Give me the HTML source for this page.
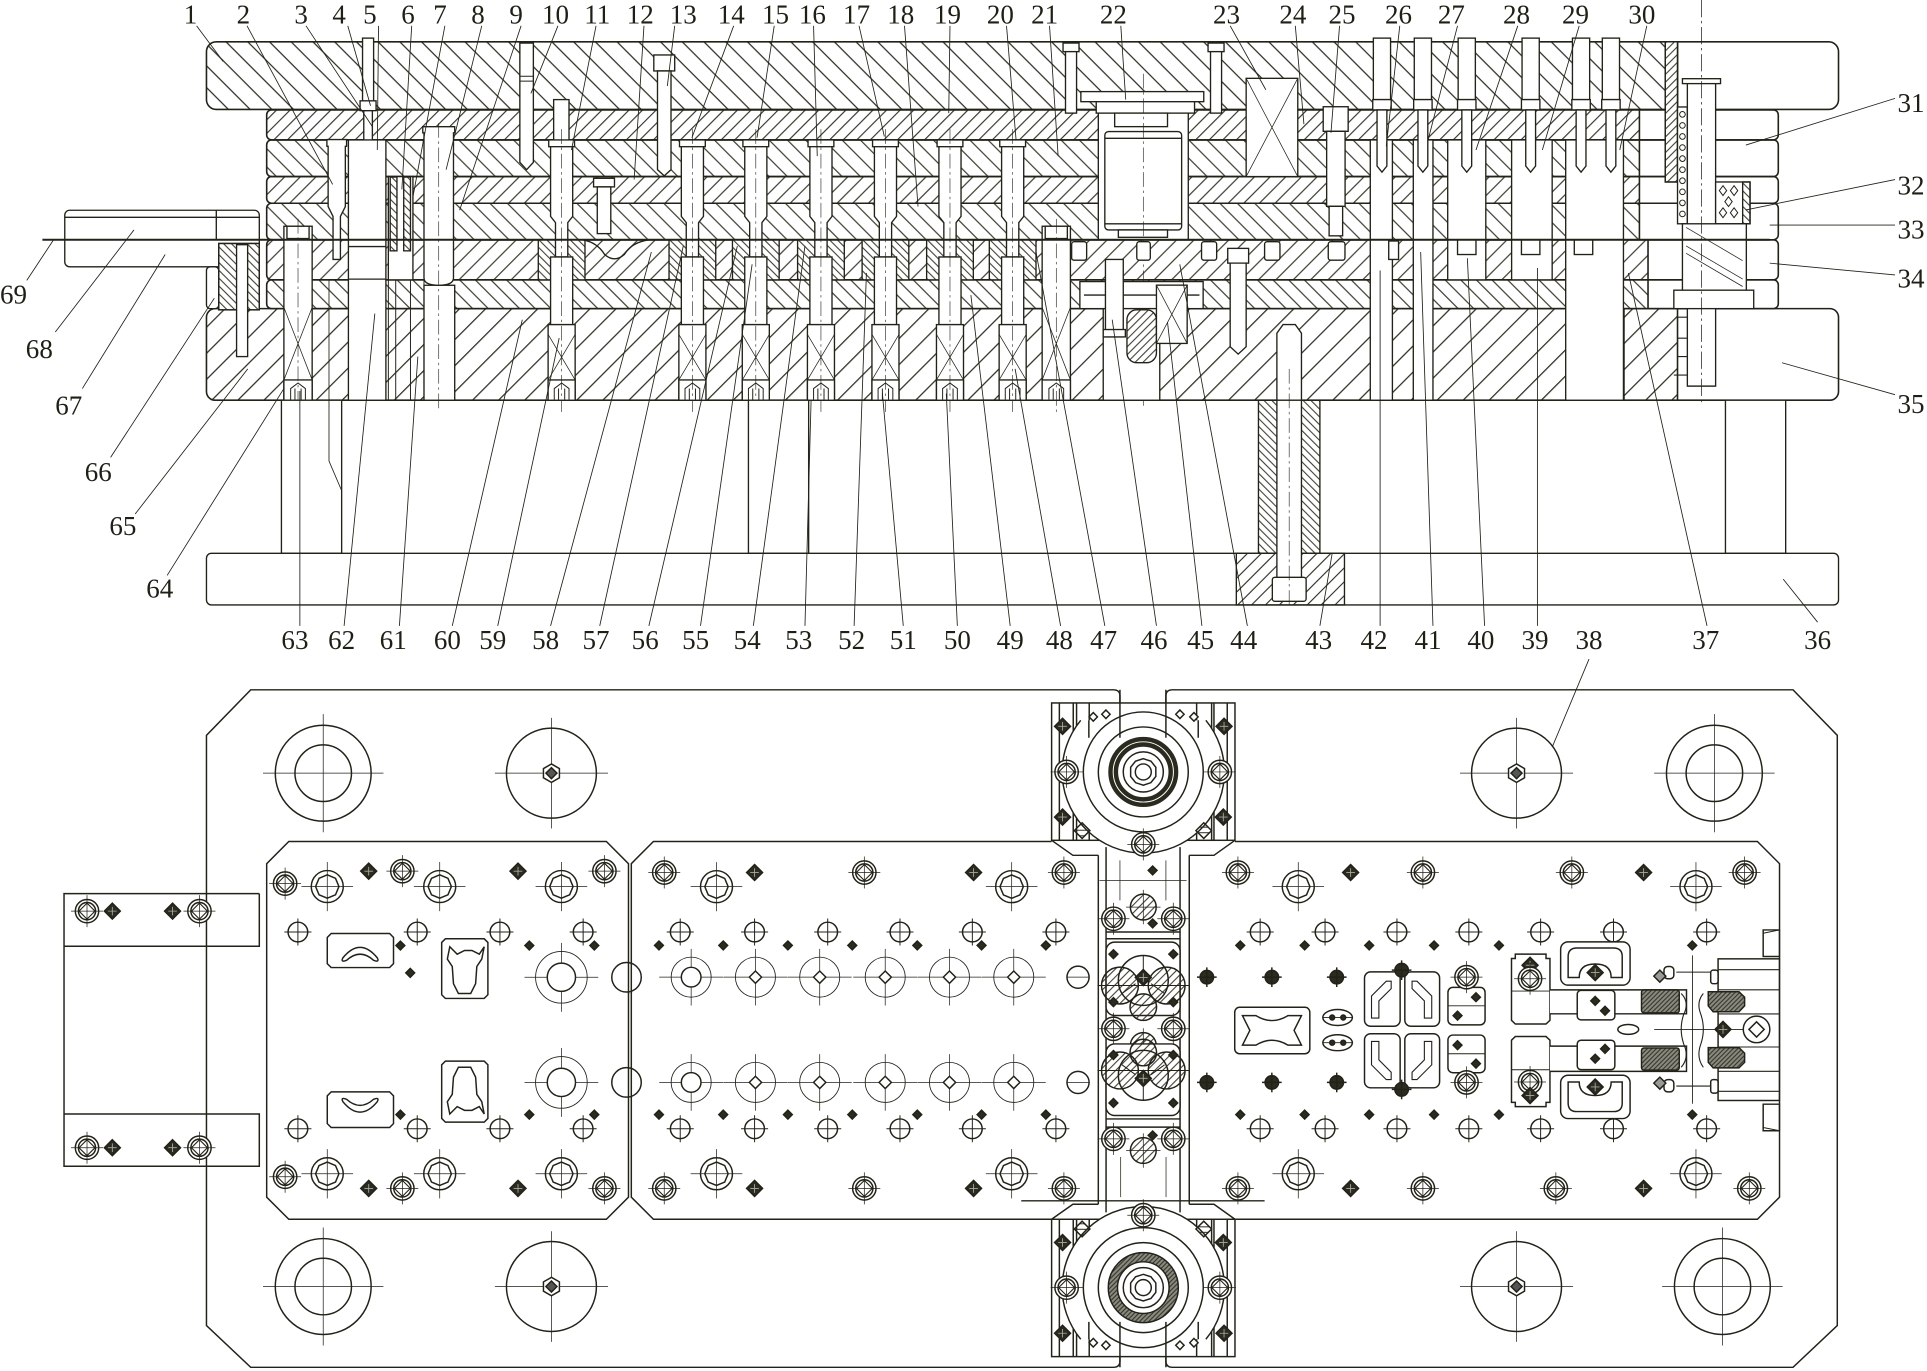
<!DOCTYPE html>
<html><head><meta charset="utf-8">
<style>
html,body{margin:0;padding:0;background:#fff}
svg{display:block}
.t{font-family:"Liberation Serif","DejaVu Serif",serif;font-size:22px;fill:#1f1f16;text-anchor:middle}
</style></head><body>
<svg xmlns="http://www.w3.org/2000/svg" width="1927" height="1371" viewBox="0 0 1568 1115" preserveAspectRatio="none">
<defs>
<pattern id="pA" width="12.5" height="12.5" patternUnits="userSpaceOnUse" patternTransform="rotate(-45)"><path d="M6,0V12.5" stroke="#2a2a1e" stroke-width="1"/></pattern>
<pattern id="pB" width="7.8" height="7.8" patternUnits="userSpaceOnUse" patternTransform="rotate(45)"><path d="M4,0V7.8" stroke="#2a2a1e" stroke-width=".9"/></pattern>
<pattern id="pC" width="10.5" height="10.5" patternUnits="userSpaceOnUse" patternTransform="rotate(-45)"><path d="M5,0V10.5" stroke="#2a2a1e" stroke-width=".9"/></pattern>
<pattern id="pD" width="9" height="9" patternUnits="userSpaceOnUse" patternTransform="rotate(45)"><path d="M4.5,0V9" stroke="#2a2a1e" stroke-width=".9"/></pattern>
<pattern id="pE" width="10" height="10" patternUnits="userSpaceOnUse" patternTransform="rotate(-45)"><path d="M5,0V10" stroke="#2a2a1e" stroke-width=".9"/></pattern>
<pattern id="pF" width="10" height="10" patternUnits="userSpaceOnUse" patternTransform="rotate(45)"><path d="M5,0V10" stroke="#2a2a1e" stroke-width=".9"/></pattern>
<pattern id="pG" width="9" height="9" patternUnits="userSpaceOnUse" patternTransform="rotate(-45)"><path d="M4.5,0V9" stroke="#2a2a1e" stroke-width=".9"/></pattern>
<pattern id="pH" width="15" height="15" patternUnits="userSpaceOnUse" patternTransform="rotate(45)"><path d="M7,0V15" stroke="#2a2a1e" stroke-width="1"/></pattern>
<pattern id="pI" width="4.5" height="4.5" patternUnits="userSpaceOnUse" patternTransform="rotate(-45)"><path d="M2,0V4.5" stroke="#2a2a1e" stroke-width=".8"/></pattern>
<pattern id="pK" width="4.5" height="4.5" patternUnits="userSpaceOnUse" patternTransform="rotate(45)"><path d="M2,0V4.5" stroke="#2a2a1e" stroke-width=".8"/></pattern>
<pattern id="pJ" width="8" height="8" patternUnits="userSpaceOnUse" patternTransform="rotate(45)"><path d="M4,0V8" stroke="#2a2a1e" stroke-width=".9"/></pattern>
<pattern id="pM" width="2.6" height="2.6" patternUnits="userSpaceOnUse" patternTransform="rotate(45)"><rect width="2.6" height="2.6" fill="#8a8a80"/><path d="M1.3,0V2.6" stroke="#2a2a1e" stroke-width=".8"/></pattern>

<g id="pu">
<rect x="-19" y="195" width="38" height="32.6" fill="#fff" stroke="none"/>
<rect x="-19" y="195" width="38" height="32.6" fill="url(#pI)"/>
<path d="M-9,119V176L-5,181V209H5V181L9,176V119Z" fill="#fff"/>
<rect x="-10.5" y="113.8" width="21" height="5.5" fill="#fff"/>
<rect x="-9" y="209" width="18" height="55" fill="#fff"/>
<rect x="-11" y="264" width="22" height="61.5" fill="#fff"/>
<path d="M-11,272L11,309M11,272L-11,309" fill="none" stroke-width=".6"/>
<rect x="-11" y="309" width="22" height="16.5" fill="#fff"/>
<path d="M-6,325V316L0,311.5L6,316V325M-2.5,325V316M2.5,325V316" fill="none" stroke-width=".8"/>
<path d="M0,105V335" fill="none" stroke-width=".5" stroke-dasharray="12 3 2 3"/>
</g>
<g id="ls">
<rect x="-11.5" y="184" width="23" height="141.5" fill="#fff"/>
<rect x="-9" y="184" width="18" height="10" fill="#fff"/>
<path d="M-11.5,250L11.5,309M11.5,250L-11.5,309" fill="none" stroke-width=".6"/>
<rect x="-11.5" y="309" width="23" height="16.5" fill="#fff"/>
<path d="M-6,325V316L0,311.5L6,316V325M-2.5,325V316M2.5,325V316" fill="none" stroke-width=".8"/>
<path d="M0,178V335" fill="none" stroke-width=".5" stroke-dasharray="12 3 2 3"/>
</g>

<g id="pd"><circle r="9.5" fill="#fff"/><circle r="7" fill="none"/><path d="M0,-6.5L6.5,0 0,6.5-6.5,0Z" fill="none" stroke-width=".9"/><path d="M-13,0H13M0,-13V13" fill="none" stroke-width=".6"/></g>
<g id="fd"><path d="M0,-6.5L6.5,0 0,6.5-6.5,0Z" fill="#2b2b20"/><path d="M-3.5,0H3.5M0,-3.5V3.5" stroke="#aaa" stroke-width=".7"/></g>
<g id="cb"><circle r="13" fill="#fff"/><path d="M0,-9.5L6.7,-6.7 9.5,0 6.7,6.7 0,9.5-6.7,6.7-9.5,0-6.7,-6.7Z" fill="none"/><path d="M-21,0H21M0,-20V20" fill="none" stroke-width=".6"/></g>
<g id="sc"><circle r="8" fill="#fff"/><path d="M-11,0H11M0,-11V11" fill="none" stroke-width=".8"/></g>
<path id="sd" d="M0,-3.6L3.6,0 0,3.6-3.6,0Z" fill="#2b2b20"/>
<g id="lc"><circle r="16.3" stroke-width=".7" fill="#fff"/><path d="M-26,0H26M0,-23V23" fill="none" stroke-width=".6"/><path d="M0,-5L5,0 0,5-5,0Z" fill="#fff"/></g>
<g id="lo"><circle r="16.3" stroke-width=".7" fill="#fff"/><path d="M-26,0H26M0,-23V23" fill="none" stroke-width=".6"/><circle r="8" fill="#fff"/></g>
<g id="lb"><circle r="21" stroke-width=".7" fill="#fff"/><path d="M-30,0H30M0,-28V28" fill="none" stroke-width=".6"/><circle r="11.5" fill="#fff"/></g>
<g id="bd"><circle r="5.5" fill="#2b2b20"/><path d="M-8,0H8M0,-8V8" fill="none" stroke-width="1.2"/></g>
<g id="br"><circle r="39" fill="#fff"/><circle r="23" fill="none"/><path d="M-49,0H49M0,-48V48" fill="none" stroke-width=".6"/></g>
<g id="nb"><circle r="36.6" fill="#fff"/><path d="M-46,0H46M0,-45V45" fill="none" stroke-width=".6"/><path d="M0,-7.5L6.5,-3.75 6.5,3.75 0,7.5-6.5,3.75-6.5,-3.75Z" fill="#fff"/><path d="M0,-4.5L4.5,0 0,4.5-4.5,0Z" fill="#555"/></g>
<g id="hc"><circle r="10.5" fill="url(#pK)"/><path d="M-14,0H14M0,-14V14" fill="none" stroke-width=".6"/></g>

<g id="hs">
<rect x="855.7" y="571.7" width="149.2" height="111.7" fill="#fff"/>
<path d="M862,571.7V683.4M998.6,571.7V683.4M873.3,571.7V683.4M876,571.7V683.4M886.3,571.7V683.4M973.7,571.7V683.4M985.9,571.7V683.4M987.8,571.7V683.4" fill="none"/>
<path d="M855.7,683.4L873,695.6H893.7M1004.9,683.4L987.8,695.6H967.7" fill="none"/>
<path d="M879.4,585.8A66,66 0 1,0 981.2,585.8" fill="#fff"/>
<path d="M886,585.8V600M975,585.8V600" fill="none"/>
<circle cx="930.3" cy="627.8" r="48.8" fill="#fff"/>
<circle cx="930.3" cy="627.8" r="36.6" fill="none"/>
<use href="#fd" x="864.6" y="590.7"/><use href="#fd" x="864.6" y="664.5"/><use href="#fd" x="996" y="590.7"/><use href="#fd" x="995.4" y="664.5"/>
<use href="#pd" x="867.9" y="627.8"/><use href="#pd" x="992.6" y="627.8"/>
<path d="M889.6,579.5L893,583 889.6,586.5 886.2,583ZM899.9,577.4L903.3,580.9 899.9,584.4 896.5,580.9ZM960.1,577.4L963.5,580.9 960.1,584.4 956.7,580.9ZM971.5,579.5L974.9,583 971.5,586.5 968.1,583Z" fill="#fff"/>
<use href="#pd" x="930.3" y="686.7"/>
<rect x="876" y="671" width="9" height="9" fill="url(#pK)" transform="rotate(45 880.5 675.5)"/>
<rect x="975" y="671" width="9" height="9" fill="url(#pK)" transform="rotate(45 979.5 675.5)"/>
</g>
</defs>

<!-- ================= SECTION VIEW ================= -->
<g stroke="none">
<rect x="168" y="34" width="1328" height="55" rx="8" fill="url(#pA)"/>
<rect x="1365" y="34" width="131" height="55" fill="#fff"/>
<rect x="217" y="89.4" width="1117" height="24.4" fill="url(#pB)"/>
<rect x="217" y="113.8" width="1117" height="29.8" fill="url(#pC)"/>
<rect x="217" y="143.6" width="1117" height="21.7" fill="url(#pD)"/>
<rect x="217" y="165.3" width="1117" height="29.7" fill="url(#pE)"/>
<rect x="217" y="195" width="1124" height="32.6" fill="url(#pF)"/>
<rect x="217" y="227.6" width="1124" height="23.4" fill="url(#pG)"/>
<rect x="168" y="251" width="1197" height="74.5" fill="url(#pH)"/>
</g>
<g fill="none" stroke="#222218" stroke-width="1.3">
<rect x="168" y="34" width="1328" height="55" rx="8"/>
<rect x="217" y="89.4" width="1230" height="24.4" rx="4"/>
<rect x="217" y="113.8" width="1230" height="29.8" rx="4"/>
<rect x="217" y="143.6" width="1230" height="21.7" rx="4"/>
<rect x="217" y="165.3" width="1230" height="29.7" rx="4"/>
<rect x="217" y="195" width="1230" height="32.6" rx="4"/>
<rect x="217" y="227.6" width="1230" height="23.4" rx="4"/>
<rect x="168" y="251" width="1328" height="74.5" rx="7"/>
<path d="M1365,34V89M1334,89.4V195M1341,195V251M1365,251V325.5M1321.4,251V325.5"/>
</g>

<g fill="#fff" stroke="#222218" stroke-width="1.1">
<!-- left: feed guide and bracket -->
<rect x="52.7" y="171" width="158.3" height="46" rx="4"/>
<path d="M52.7,176.7H211M176,171V195" fill="none"/>
<rect x="168" y="217" width="10" height="34" rx="3"/>
<rect x="178" y="198" width="33" height="54"/>
<rect x="178" y="198" width="33" height="54" fill="url(#pI)"/>
<rect x="192.5" y="199" width="9" height="91"/>
<use href="#ls" x="242.5"/>
<!-- screw 4 -->
<rect x="295" y="31" width="9" height="52"/>
<rect x="293" y="82" width="13" height="8"/>
<path d="M296,90V134L299.5,139L303,134V90Z"/>
<!-- punch 2 -->
<path d="M266,113.5H282V119H281V168L277,176V211H271V176L267,168V119H266Z"/>
<!-- column 5 -->
<rect x="283.5" y="113.8" width="30.5" height="211.7"/>
<path d="M283.5,200.5H314M283.5,227H314" fill="none"/>
<!-- springs 6 -->
<rect x="316" y="143.6" width="20" height="84"/>
<rect x="317.5" y="144" width="5.5" height="60" fill="url(#pI)"/>
<rect x="328.5" y="144" width="5.5" height="60" fill="url(#pI)"/>
<path d="M316,227.6V325.5M322,227.6V325.5M334,227.6V325.5M345,227.6V325.5" fill="none" stroke-width=".8"/>
<!-- punch 8 -->
<rect x="345" y="232" width="25" height="93.5"/>
<path d="M344,103H370V108H369V226Q369,232 357,232Q345,232 345,226V108H344Z"/>
<path d="M357,100V335" fill="none" stroke-width=".5" stroke-dasharray="12 3 2 3"/>
<!-- screw 10 -->
<path d="M423,35H434V132L428.5,138L423,132Z"/>
<path d="M423,62H434M423,66H434" fill="none" stroke-width=".8"/>
<!-- punch 11 -->
<rect x="450.5" y="81" width="12.5" height="33"/>
<use href="#pu" x="457"/>
<path d="M474,195Q486,197 492,207Q500,214 508,207Q514,197 528,195" fill="none"/>
<!-- screw 12 -->
<rect x="483" y="145" width="17" height="7"/>
<rect x="486" y="152" width="11" height="38"/>
<!-- screw 13 -->
<rect x="532" y="44.7" width="17" height="13"/>
<path d="M535,57.7V138L540.5,143L546,138V57.7Z"/>
<!-- punches -->
<use href="#pu" x="563.4"/>
<use href="#pu" x="615"/>
<use href="#pu" x="668"/>
<use href="#pu" x="720.5"/>
<use href="#pu" x="773"/>
<use href="#pu" x="824"/>
<use href="#ls" x="859.5"/>

<!-- centre assembly 22 -->
<rect x="865" y="35" width="13" height="7"/><rect x="867" y="42" width="9" height="50"/>
<rect x="983" y="35" width="13" height="7"/><rect x="985" y="42" width="9" height="50"/>
<rect x="893.7" y="89.4" width="73.2" height="105.6"/>
<rect x="879.5" y="74.5" width="100" height="8.2"/>
<rect x="892" y="82.7" width="80" height="9.3"/>
<rect x="907" y="92" width="43" height="11"/>
<rect x="899" y="107" width="62.5" height="80" rx="3"/>
<path d="M899,112.5H961.5M899,182H961.5" fill="none"/>
<rect x="910" y="187" width="40" height="6"/>
<path d="M930.3,60V330" fill="none" stroke-width=".5" stroke-dasharray="12 3 2 3"/>
<rect x="872" y="196.6" width="12.2" height="15" rx="2"/>
<rect x="925" y="196.6" width="11" height="15" rx="2"/>
<rect x="977.7" y="196.6" width="12.3" height="15" rx="2"/>
<rect x="1029" y="196.6" width="12.5" height="15" rx="2"/>
<rect x="878.7" y="229" width="100.3" height="22"/>
<path d="M882,240H976" fill="none"/>
<rect x="897.7" y="251" width="46" height="74.5"/>
<rect x="899.5" y="211" width="14.5" height="63"/>
<rect x="897.7" y="268" width="18" height="6"/>
<rect x="917" y="252" width="24" height="43" rx="8" fill="url(#pK)"/>
<rect x="941" y="231.9" width="25" height="47.4"/>
<path d="M941,231.9L966,279.3M966,231.9L941,279.3" fill="none" stroke-width=".6"/>
<rect x="999" y="202" width="17" height="12"/>
<path d="M1001,214V282L1007.5,288L1014,282V214Z"/>
<!-- 23 -->
<rect x="1014" y="63.7" width="42" height="79.9"/>
<path d="M1014,63.7L1056,143.6M1056,63.7L1014,143.6" fill="none" stroke-width=".6"/>
<!-- 25 -->
<rect x="1076.7" y="86.8" width="20.3" height="20"/>
<rect x="1079.5" y="106.8" width="15" height="61"/>
<rect x="1081.5" y="167.8" width="11" height="24"/>
<rect x="1080.8" y="196.6" width="13.6" height="15" rx="2"/>
<!-- bolt 43 top -->
<path d="M1039,325.5V271L1044,264H1054L1059,271V325.5Z"/>

<!-- right openings -->
<rect x="1115" y="113.8" width="18" height="211.7"/>
<rect x="1150" y="113.8" width="16" height="211.7"/>
<rect x="1178" y="113.8" width="31" height="113.8"/>
<rect x="1230" y="113.8" width="33" height="113.8"/>
<rect x="1274" y="113.8" width="47" height="211.7"/>
<path d="M1178,195H1209M1230,195H1263M1274,195H1321M1115,195H1133M1150,195H1166" fill="none"/>
<rect x="1186" y="195" width="15" height="12"/>
<rect x="1238" y="195" width="15" height="12"/>
<rect x="1281" y="195" width="15" height="12"/>
<rect x="1130" y="196" width="8" height="15"/>
<!-- right screws -->
<g>
<rect x="1117.5" y="31" width="14" height="50"/><rect x="1117" y="81" width="15" height="8.4"/><path d="M1120.5,89.4V135L1124.5,140L1128.5,135V89.4Z"/>
<rect x="1150.8" y="31" width="14" height="50"/><rect x="1150.3" y="81" width="15" height="8.4"/><path d="M1153.8,89.4V135L1157.8,140L1161.8,135V89.4Z"/>
<rect x="1186.5" y="31" width="14" height="50"/><rect x="1186" y="81" width="15" height="8.4"/><path d="M1189.5,89.4V135L1193.5,140L1197.5,135V89.4Z"/>
<rect x="1238.5" y="31" width="14" height="50"/><rect x="1238" y="81" width="15" height="8.4"/><path d="M1241.5,89.4V135L1245.5,140L1249.5,135V89.4Z"/>
<rect x="1279.5" y="31" width="14" height="50"/><rect x="1279" y="81" width="15" height="8.4"/><path d="M1282.5,89.4V135L1286.5,140L1290.5,135V89.4Z"/>
<rect x="1303.8" y="31" width="14" height="50"/><rect x="1303.3" y="81" width="15" height="8.4"/><path d="M1306.8,89.4V135L1310.8,140L1314.8,135V89.4Z"/>
</g>
<!-- guide assembly -->
<rect x="1355" y="34" width="10" height="114"/>
<rect x="1355" y="34" width="10" height="114" fill="url(#pK)"/>
<rect x="1365" y="87" width="8" height="95"/>
<g fill="none" stroke-width=".8"><circle cx="1369" cy="93" r="2.3"/><circle cx="1369" cy="102" r="2.3"/><circle cx="1369" cy="111" r="2.3"/><circle cx="1369" cy="120" r="2.3"/><circle cx="1369" cy="129" r="2.3"/><circle cx="1369" cy="138" r="2.3"/><circle cx="1369" cy="147" r="2.3"/><circle cx="1369" cy="156" r="2.3"/><circle cx="1369" cy="165" r="2.3"/><circle cx="1369" cy="174" r="2.3"/></g>
<rect x="1373" y="66" width="23" height="248"/>
<rect x="1369" y="64" width="31" height="4"/>
<rect x="1396" y="148" width="28" height="34"/>
<rect x="1418" y="148" width="6" height="34" fill="url(#pI)"/>
<path d="M1402,151L1405,155 1402,159 1399,155ZM1411,151L1414,155 1411,159 1408,155ZM1406.5,160L1409.5,164 1406.5,168 1403.5,164ZM1402,169L1405,173 1402,177 1399,173ZM1411,169L1414,173 1411,177 1408,173Z" fill="none" stroke-width=".8"/>
<rect x="1369" y="182" width="52" height="54"/>
<path d="M1372,185L1418,212M1372,200L1418,227M1372,206L1418,233" fill="none" stroke-width=".6"/>
<rect x="1362" y="236" width="65" height="15"/>
<path d="M1365,258H1373M1365,275H1373M1365,290H1373M1362,305H1373M1373,314H1396" fill="none" stroke-width=".9"/>
<path d="M1384.5,0V330" fill="none" stroke-width=".6" stroke-dasharray="14 3 2 3"/>

<!-- supports and base -->
<rect x="229" y="325.5" width="49" height="124.5"/>
<rect x="609" y="325.5" width="49" height="124.5"/>
<rect x="1404" y="325.5" width="49" height="124.5"/>
<rect x="1024" y="325.5" width="50" height="124.5" fill="url(#pI)"/>
<rect x="168" y="450" width="1328" height="42" rx="4"/>
<rect x="1006" y="450" width="88" height="42" fill="url(#pJ)"/>
<rect x="1039" y="325.5" width="20" height="145"/>
<rect x="1035.3" y="469.5" width="27.5" height="19.5" rx="2"/>
<path d="M1049,300V495" fill="none" stroke-width=".5" stroke-dasharray="12 3 2 3"/>
</g>
<!-- strip -->
<path d="M34.5,195H1440" stroke="#222218" stroke-width="1.6" fill="none"/>

<!-- leaders -->
<g stroke="#222218" stroke-width=".7" fill="none">
<path d="M160,21L181.6,50M201,21L270.7,150M249,21L303,103M283,21L301.5,86M308,21L307,122M335,21L327,154M362,21L336,160M392,21L363,138M424,21L374,171M454,21L432,76M485,21L465,122M524,21L516,146M549,21L543,70M597,21L563,112M630,21L616,112M662,21L665,127M699,21L719.6,111M736,21L747,168M773,21L772,92M819,21L826.8,114M854,21L861,127M912,21L916,81M1001,21L1030,73M1054,21L1061,101M1090,21L1083,108M1139,21L1128,119M1186,21L1162,114M1235,21L1201,122M1285,21L1255,122M1340,21L1318,122"/>
<path d="M1542,80L1420.6,118M1542,146L1420.6,170.7M1542,183L1440,183M1542,223.6L1440,214M1542,321L1450,295"/>
<path d="M21.8,228L43.6,195M45,270L109,187M67,316L134.4,207M90,372L174.4,242.5M110,418L201.6,300M136,468L231,316"/>
<path d="M244,509L244,318M280,509L305,255M325,509L340,290M368,509L425,260M405,509L455,275M448,509L530,205M488,509L556,200M528,509L600,200M570,509L612,215M613,509L655,200M655,509L660,325M695,509L705,222M735,509L718,320M779,509L770,320M822,509L790,240M863,509L826,300M899,509L843,205M941,509L905,260M978,509L950,262M1015,509L960,215M1074,509L1084,450M1123,509L1123,220M1166,509L1156,205M1208,509L1194,210M1251,509L1251,218M1293,536L1257,622M1389,509L1325,222M1479,506L1451,471"/>
<path d="M267.7,228V375L278,399"/>
</g>

<!-- labels -->
<g class="t">
<text x="155" y="19" class="t">1</text><text x="198" y="19" class="t">2</text><text x="245" y="19" class="t">3</text><text x="276" y="19" class="t">4</text><text x="301" y="19" class="t">5</text><text x="332" y="19" class="t">6</text><text x="358" y="19" class="t">7</text><text x="389" y="19" class="t">8</text><text x="420" y="19" class="t">9</text><text x="452" y="19" class="t">10</text><text x="486" y="19" class="t">11</text><text x="521" y="19" class="t">12</text><text x="556" y="19" class="t">13</text><text x="595" y="19" class="t">14</text><text x="631" y="19" class="t">15</text><text x="661" y="19" class="t">16</text><text x="697" y="19" class="t">17</text><text x="733" y="19" class="t">18</text><text x="771" y="19" class="t">19</text><text x="814" y="19" class="t">20</text><text x="850" y="19" class="t">21</text><text x="906" y="19" class="t">22</text><text x="998" y="19" class="t">23</text><text x="1052" y="19" class="t">24</text><text x="1092" y="19" class="t">25</text><text x="1138" y="19" class="t">26</text><text x="1181" y="19" class="t">27</text><text x="1234" y="19" class="t">28</text><text x="1282" y="19" class="t">29</text><text x="1336" y="19" class="t">30</text>
<text x="1555" y="91" class="t">31</text><text x="1555" y="158" class="t">32</text><text x="1555" y="194" class="t">33</text><text x="1555" y="234" class="t">34</text><text x="1555" y="336" class="t">35</text>
<text x="11" y="247" class="t">69</text><text x="32" y="291" class="t">68</text><text x="56" y="337" class="t">67</text><text x="80" y="391" class="t">66</text><text x="100" y="435" class="t">65</text><text x="130" y="486" class="t">64</text>
<text x="240" y="528" class="t">63</text><text x="278" y="528" class="t">62</text><text x="320" y="528" class="t">61</text><text x="364" y="528" class="t">60</text><text x="401" y="528" class="t">59</text><text x="444" y="528" class="t">58</text><text x="485" y="528" class="t">57</text><text x="525" y="528" class="t">56</text><text x="566" y="528" class="t">55</text><text x="608" y="528" class="t">54</text><text x="650" y="528" class="t">53</text><text x="693" y="528" class="t">52</text><text x="735" y="528" class="t">51</text><text x="779" y="528" class="t">50</text><text x="822" y="528" class="t">49</text><text x="862" y="528" class="t">48</text><text x="898" y="528" class="t">47</text><text x="939" y="528" class="t">46</text><text x="977" y="528" class="t">45</text><text x="1012" y="528" class="t">44</text><text x="1073" y="528" class="t">43</text><text x="1118" y="528" class="t">42</text><text x="1162" y="528" class="t">41</text><text x="1205" y="528" class="t">40</text><text x="1249" y="528" class="t">39</text><text x="1293" y="528" class="t">38</text><text x="1388" y="528" class="t">37</text><text x="1479" y="528" class="t">36</text>
</g>

<!-- ================= PLAN VIEW ================= -->
<g stroke="#222218" stroke-width="1.2" fill="none">
<path d="M911.3,571.7V566Q911.3,561 906,561H204L168,598V1078L204,1112H906Q911.3,1112 911.3,1107V1103.3"/>
<path d="M948.7,571.7V566Q948.7,561 954,561H1459L1495,598V1078L1459,1112H954Q948.7,1112 948.7,1107V1103.3"/>
<!-- feed guide plan -->
<path d="M211,726.8H52.1V948.5H211V906H52.1M52.1,769.6H211V726.8M211,906V948.5"/>
<!-- blocks -->
<path d="M235,684.4H493.4L511.4,702.4V973.6L493.4,991.6H235L217,973.6V702.4Z"/>
<path d="M855.7,684.4H531.7L513.7,702.4V973.6L531.7,991.6H855.7M893.7,695.6V979.4"/>
<path d="M1004.9,684.4H1430L1448,702.4V973.6L1430,991.6H1004.9M967.7,695.6V979.4"/>
<path d="M900,688.9V986M960.2,688.9V986"/>
<path d="M831,976.6H1029"/>

<!-- housings -->
<use href="#hs"/>
<use href="#hs" transform="translate(0,1675) scale(1,-1)"/>
<g>
<circle cx="930.3" cy="627.8" r="24.5" stroke="#2a2a1e" stroke-width="8"/>
<circle cx="930.3" cy="627.8" r="24.5" stroke="#fff" stroke-width=".8"/>
<circle cx="930.3" cy="627.8" r="16.3" fill="#fff"/>
<path d="M930.3,617L936.5,619 940.5,624 940.5,631.5 936.5,636.5 930.3,638.6 924,636.5 920,631.5 920,624 924,619Z" fill="#fff"/>
<circle cx="930.3" cy="627.8" r="6.5"/>
<path d="M911.3,561V600M948.7,561V600"/>
<circle cx="930.3" cy="1047.2" r="28.5" fill="url(#pM)"/>
<circle cx="930.3" cy="1047.2" r="21" fill="#fff"/>
<circle cx="930.3" cy="1047.2" r="16.3" fill="#fff"/>
<path d="M930.3,1036.4L936.5,1038.4 940.5,1043.4 940.5,1051 936.5,1056 930.3,1058 924,1056 920,1051 920,1043.4 924,1038.4Z" fill="#fff"/>
<circle cx="930.3" cy="1047.2" r="6.5"/>
<path d="M911.3,1112V1075M948.7,1112V1075"/>
</g>

<!-- column features -->
<path d="M894.6,716H965.5M911.3,699.7V732.3M948.7,699.7V732.3" stroke-width=".6"/>
<use href="#sd" x="937.9" y="707.9"/>
<use href="#hc" x="930.3" y="737.7"/>
<use href="#pd" x="906" y="747.2"/><use href="#pd" x="954.7" y="747.2"/>
<use href="#sd" x="937.9" y="751"/>
<path d="M900,758H960.2M900,763.5H960.2"/>
<rect x="900" y="766.2" width="60.2" height="59.7" rx="7" fill="#fff"/>
<circle cx="911.3" cy="801.5" r="15" fill="url(#pK)"/>
<circle cx="949.3" cy="801.5" r="15" fill="url(#pK)"/>
<circle cx="930.3" cy="819.1" r="10.8" fill="url(#pK)"/>
<circle cx="930.3" cy="797.4" r="20.3"/>
<path d="M930.3,777V790M913,808L924,800M947.6,808L936.6,800M893,801.5H968" stroke-width=".8"/>
<use href="#fd" x="930.3" y="795"/>
<use href="#sd" x="906" y="776"/><use href="#sd" x="954.7" y="776"/><use href="#sd" x="906" y="815"/><use href="#sd" x="954.7" y="815"/>
<use href="#pd" x="906" y="836.7"/><use href="#pd" x="954.7" y="836.7"/>
<use href="#hc" x="930.3" y="850.3"/>
<rect x="900" y="849" width="60.2" height="58.2" rx="7" fill="#fff"/>
<circle cx="911.3" cy="870.6" r="15" fill="url(#pK)"/>
<circle cx="949.3" cy="870.6" r="15" fill="url(#pK)"/>
<circle cx="930.3" cy="856" r="10.8" fill="url(#pK)"/>
<circle cx="930.3" cy="874.5" r="20.3"/>
<path d="M930.3,882V895M913,866L924,874M947.6,866L936.6,874M893,870.6H968" stroke-width=".8"/>
<use href="#fd" x="930.3" y="877"/>
<use href="#sd" x="906" y="858"/><use href="#sd" x="954.7" y="858"/><use href="#sd" x="906" y="897"/><use href="#sd" x="954.7" y="897"/>
<path d="M900,910H960.2M900,916.7H960.2"/>
<use href="#pd" x="906" y="926.2"/><use href="#pd" x="954.7" y="926.2"/>
<use href="#sd" x="937.9" y="923.4"/>
<use href="#hc" x="930.3" y="935.7"/>
<path d="M911.9,941V973.6M948.8,941V973.6" stroke-width=".6"/>

<!-- bosses -->
<use href="#br" x="263" y="628.8"/><use href="#nb" x="448.7" y="628.8"/><use href="#nb" x="1234" y="628.8"/><use href="#br" x="1395" y="628.8"/>
<use href="#br" x="263" y="1046.3"/><use href="#nb" x="448.7" y="1046.3"/><use href="#nb" x="1234" y="1046.3"/><use href="#br" x="1401.5" y="1046.3"/>

<!-- feed guide symbols -->
<use href="#pd" x="70.8" y="741"/><use href="#pd" x="162.3" y="741"/><use href="#pd" x="70.8" y="933.4"/><use href="#pd" x="162.3" y="933.4"/>
<use href="#fd" x="91.4" y="741"/><use href="#fd" x="140.4" y="741"/><use href="#fd" x="91.4" y="933.4"/><use href="#fd" x="140.4" y="933.4"/>

<!-- block A -->
<use href="#pd" x="232" y="718.6"/><use href="#pd" x="327.4" y="708.5"/><use href="#pd" x="491.8" y="708.5"/>
<use href="#pd" x="232" y="957"/><use href="#pd" x="327.4" y="966.5"/><use href="#pd" x="491.8" y="966.5"/>
<use href="#cb" x="266.3" y="721"/><use href="#cb" x="357.8" y="721"/><use href="#cb" x="456.8" y="721"/>
<use href="#cb" x="266.3" y="954.6"/><use href="#cb" x="357.8" y="954.6"/><use href="#cb" x="456.8" y="954.6"/>
<use href="#fd" x="300" y="708.5"/><use href="#fd" x="421.5" y="708.5"/><use href="#fd" x="300" y="966.5"/><use href="#fd" x="421.5" y="966.5"/>
<use href="#sc" x="242.4" y="758"/><use href="#sc" x="339.5" y="758"/><use href="#sc" x="406.8" y="758"/><use href="#sc" x="474.5" y="758"/>
<use href="#sc" x="242.4" y="918"/><use href="#sc" x="339.5" y="918"/><use href="#sc" x="406.8" y="918"/><use href="#sc" x="474.5" y="918"/>
<use href="#sd" x="272.8" y="769"/><use href="#sd" x="325.8" y="769"/><use href="#sd" x="333.8" y="791.2"/><use href="#sd" x="430.7" y="769"/><use href="#sd" x="483.6" y="769"/>
<use href="#sd" x="272.8" y="906.5"/><use href="#sd" x="325.8" y="906.5"/><use href="#sd" x="430.7" y="906.5"/><use href="#sd" x="483.6" y="906.5"/>
<use href="#lb" x="456.8" y="794.8"/><use href="#lb" x="456.8" y="880.3"/>
<circle cx="509.8" cy="794.8" r="12" fill="#fff"/><circle cx="509.8" cy="880.3" r="12" fill="#fff"/>
<path d="M511.4,782V808M513.7,782V808M511.4,868V893M513.7,868V893"/>
<path d="M269.5,759.2H317L320.2,762.4V783.7L317,786.9H269.5L266.3,783.7V762.4Z" fill="#fff"/>
<path d="M279,779Q293,762 307,779Q309,783 304,781Q293,771 282,781Q277,783 279,779Z"/>
<path d="M269.5,888H317L320.2,891.2V913.8L317,917H269.5L266.3,913.8V891.2Z" fill="#fff"/>
<path d="M279,896Q293,913 307,896Q309,892 304,894Q293,904 282,894Q277,892 279,896Z"/>
<path d="M362.4,763.5H394L397,766.5V809L394,812H362.4L359.4,809V766.5Z" fill="#fff"/>
<path d="M366,770L372,776L378,773L384,773L390,776L394,770L392,780L388,786L387,800L383,808L373,808L369,800L368,786L364,780Z"/>
<path d="M362.4,863H394L397,866V909.6L394,912.6H362.4L359.4,909.6V866Z" fill="#fff"/>
<path d="M366,906L372,900L378,903L384,903L390,900L394,906L392,896L388,890L387,876L383,868L373,868L369,876L368,890L364,896Z"/>

<!-- block B -->
<use href="#pd" x="540.5" y="709.6"/><use href="#pd" x="703.3" y="709.6"/><use href="#pd" x="865.7" y="709.6"/>
<use href="#pd" x="540.5" y="966.5"/><use href="#pd" x="703.3" y="966.5"/><use href="#pd" x="865.7" y="966.5"/>
<use href="#fd" x="614" y="709.6"/><use href="#fd" x="792.2" y="709.6"/><use href="#fd" x="614" y="966.5"/><use href="#fd" x="792.2" y="966.5"/>
<use href="#cb" x="583" y="721.1"/><use href="#cb" x="823.2" y="721.1"/><use href="#cb" x="583" y="954.6"/><use href="#cb" x="823.2" y="954.6"/>
<use href="#sc" x="553.5" y="758"/><use href="#sc" x="614" y="758"/><use href="#sc" x="673.5" y="758"/><use href="#sc" x="732.3" y="758"/><use href="#sc" x="791.2" y="758"/><use href="#sc" x="859.2" y="758"/>
<use href="#sc" x="553.5" y="918"/><use href="#sc" x="614" y="918"/><use href="#sc" x="673.5" y="918"/><use href="#sc" x="732.3" y="918"/><use href="#sc" x="791.2" y="918"/><use href="#sc" x="859.2" y="918"/>
<use href="#sd" x="536.2" y="768.9"/><use href="#sd" x="588.5" y="768.9"/><use href="#sd" x="641.1" y="768.9"/><use href="#sd" x="693.5" y="768.9"/><use href="#sd" x="746.4" y="768.9"/><use href="#sd" x="798.7" y="768.9"/><use href="#sd" x="851" y="768.9"/>
<use href="#sd" x="536.2" y="906.5"/><use href="#sd" x="588.5" y="906.5"/><use href="#sd" x="641.1" y="906.5"/><use href="#sd" x="693.5" y="906.5"/><use href="#sd" x="746.4" y="906.5"/><use href="#sd" x="798.7" y="906.5"/><use href="#sd" x="851" y="906.5"/>
<use href="#lo" x="562.4" y="794.7"/><use href="#lc" x="614.7" y="794.7"/><use href="#lc" x="667" y="794.7"/><use href="#lc" x="720.3" y="794.7"/><use href="#lc" x="772.6" y="794.7"/><use href="#lc" x="824.9" y="794.7"/>
<use href="#lo" x="562.4" y="880.3"/><use href="#lc" x="614.7" y="880.3"/><use href="#lc" x="667" y="880.3"/><use href="#lc" x="720.3" y="880.3"/><use href="#lc" x="772.6" y="880.3"/><use href="#lc" x="824.9" y="880.3"/>
<circle cx="877.2" cy="794.7" r="9" fill="#fff"/><circle cx="877.2" cy="880.3" r="9" fill="#fff"/>
<path d="M868,794.7H886M868,880.3H886" stroke-width=".6"/>

<!-- block C -->
<use href="#pd" x="1007.3" y="709.6"/><use href="#pd" x="1157.8" y="709.6"/><use href="#pd" x="1279" y="709.6"/><use href="#pd" x="1419.6" y="709.6"/>
<use href="#pd" x="1007.3" y="966.5"/><use href="#pd" x="1157.8" y="966.5"/><use href="#pd" x="1266" y="966.5"/><use href="#pd" x="1423.4" y="966.5"/>
<use href="#fd" x="1099" y="709.6"/><use href="#fd" x="1337.4" y="709.6"/><use href="#fd" x="1099" y="966.5"/><use href="#fd" x="1337.4" y="966.5"/>
<use href="#cb" x="1056.4" y="721.1"/><use href="#cb" x="1380" y="721.1"/><use href="#cb" x="1056.4" y="954.6"/><use href="#cb" x="1380" y="954.6"/>
<use href="#sc" x="1025.4" y="758"/><use href="#sc" x="1078.2" y="758"/><use href="#sc" x="1136.7" y="758"/><use href="#sc" x="1195.2" y="758"/><use href="#sc" x="1253.6" y="758"/><use href="#sc" x="1312.9" y="758"/><use href="#sc" x="1388.7" y="758"/>
<use href="#sc" x="1025.4" y="918"/><use href="#sc" x="1078.2" y="918"/><use href="#sc" x="1136.7" y="918"/><use href="#sc" x="1195.2" y="918"/><use href="#sc" x="1253.6" y="918"/><use href="#sc" x="1312.9" y="918"/><use href="#sc" x="1388.7" y="918"/>
<use href="#sd" x="1009.2" y="768.9"/><use href="#sd" x="1061.6" y="768.9"/><use href="#sd" x="1114.1" y="768.9"/><use href="#sd" x="1166.9" y="768.9"/><use href="#sd" x="1219.7" y="768.9"/><use href="#sd" x="1377" y="768.9"/>
<use href="#sd" x="1009.2" y="906.5"/><use href="#sd" x="1061.6" y="906.5"/><use href="#sd" x="1114.1" y="906.5"/><use href="#sd" x="1166.9" y="906.5"/><use href="#sd" x="1219.7" y="906.5"/><use href="#sd" x="1377" y="906.5"/>
<use href="#bd" x="982" y="794.7"/><use href="#bd" x="1034.9" y="794.7"/><use href="#bd" x="1087.7" y="794.7"/>
<use href="#bd" x="982" y="880.3"/><use href="#bd" x="1034.9" y="880.3"/><use href="#bd" x="1087.7" y="880.3"/>
<!-- bowtie -->
<rect x="1004.7" y="819.2" width="61.1" height="37.8" rx="4" fill="#fff"/>
<path d="M1011,826H1022Q1035,834 1048,826H1059L1053,838L1059,850H1048Q1035,842 1022,850H1011L1017,838Z"/>
<ellipse cx="1088.4" cy="827.5" rx="12" ry="6.5" fill="#fff"/><ellipse cx="1088.4" cy="848" rx="12" ry="6.5" fill="#fff"/>
<path d="M1076,827.5H1101M1076,848H1101" stroke-width=".7"/>
<circle cx="1084" cy="827.5" r="2" fill="#2b2b20"/><circle cx="1093" cy="827.5" r="2" fill="#2b2b20"/><circle cx="1084" cy="848" r="2" fill="#2b2b20"/><circle cx="1093" cy="848" r="2" fill="#2b2b20"/>
<!-- four rounded squares -->
<rect x="1110.3" y="790.4" width="29" height="44.2" rx="5" fill="#fff"/><rect x="1143.1" y="790.4" width="28.3" height="44.2" rx="5" fill="#fff"/>
<rect x="1110.3" y="840.7" width="29" height="44" rx="5" fill="#fff"/><rect x="1143.1" y="840.7" width="28.3" height="44" rx="5" fill="#fff"/>
<path d="M1116,828V810L1128,798H1132V804L1122,814V828ZM1165,828V810L1153,798H1149V804L1159,814V828ZM1116,847V866L1128,878H1132V872L1122,862V847ZM1165,847V866L1153,878H1149V872L1159,862V847Z" stroke-width=".9"/>
<use href="#bd" x="1140.5" y="789"/><use href="#bd" x="1140.5" y="886"/>
<!-- small rects -->
<rect x="1178.2" y="803" width="30.2" height="30.5" rx="4" fill="#fff"/><rect x="1178.2" y="841.8" width="30.2" height="30.6" rx="4" fill="#fff"/>
<path d="M1178.2,818H1208.4M1178.2,857H1208.4" stroke-width=".8"/>
<use href="#sd" x="1201" y="811"/><use href="#sd" x="1186" y="826"/><use href="#sd" x="1186" y="850"/><use href="#sd" x="1201" y="865"/>
<use href="#pd" x="1193.3" y="794.7"/><use href="#pd" x="1193.3" y="880.3"/>
<!-- notched shapes -->
<path d="M1233,776H1258V779.5H1261.2V829.8L1258,832.8H1233L1229.9,829.8V779.5H1233Z" fill="#fff"/>
<path d="M1229.9,806H1261.2" stroke-width=".8"/>
<use href="#fd" x="1245" y="785"/><use href="#pd" x="1245" y="796"/>
<path d="M1233,843H1258L1261.2,846V896.5H1258V900H1233V896.5H1229.9V846Z" fill="#fff"/>
<path d="M1229.9,870H1261.2" stroke-width=".8"/>
<use href="#pd" x="1245" y="880"/><use href="#fd" x="1245" y="891"/>
<!-- U shapes -->
<rect x="1269.9" y="766" width="56.5" height="35.2" rx="6" fill="#fff"/>
<path d="M1276,795V778Q1276,771 1283,771H1313Q1320,771 1320,778V795H1311Q1311,784 1298,784Q1285,784 1285,795Z"/>
<use href="#fd" x="1298" y="791"/>
<rect x="1269.9" y="874.5" width="56.5" height="35.2" rx="6" fill="#fff"/>
<path d="M1276,880V897Q1276,904 1283,904H1313Q1320,904 1320,897V880H1311Q1311,891 1298,891Q1285,891 1285,880Z"/>
<use href="#fd" x="1298" y="884"/>
<!-- strip bars -->
<path d="M1261.2,805H1372.3V824.5H1261.2M1261.2,850.8H1372.3V871.3H1261.2" fill="#fff"/>
<rect x="1283.4" y="805.5" width="30.6" height="23.9" rx="3" fill="#fff"/>
<rect x="1283.4" y="846" width="30.6" height="23.9" rx="3" fill="#fff"/>
<use href="#sd" x="1298" y="814"/><use href="#sd" x="1306" y="822"/><use href="#sd" x="1306" y="853"/><use href="#sd" x="1298" y="861"/>
<rect x="1335.7" y="805" width="30.7" height="18.7" rx="2" fill="url(#pM)"/>
<rect x="1335.7" y="852.3" width="30.7" height="18" rx="2" fill="url(#pM)"/>
<ellipse cx="1324.9" cy="837.2" rx="8.5" ry="4" fill="#fff"/>
<path d="M1368,808Q1375,815 1370,825Q1366,837 1370,849Q1375,860 1368,868M1386,808Q1380,815 1384,825Q1388,837 1384,849Q1380,860 1386,868" stroke-width=".9"/>
<rect x="1398" y="779.8" width="49.9" height="115.2" fill="#fff"/>
<path d="M1398,788.6H1447.9M1398,805H1447.9M1398,824.6H1447.9M1398,851.5H1447.9M1398,871.3H1447.9M1398,887.5H1447.9" stroke-width=".9"/>
<path d="M1390,806.6H1415L1419.6,811V818L1415,822.8H1394L1390,818Z" fill="url(#pM)"/>
<path d="M1390,852H1415L1419.6,856.5V864L1415,868.5H1394L1390,864Z" fill="url(#pM)"/>
<path d="M1377.2,777V897.7M1346,837.2H1440" stroke-width=".7"/>
<path d="M1364,790.6H1394M1364,883.3H1394" stroke-width=".9"/>
<rect x="1354" y="786" width="8" height="10" rx="3" fill="#fff"/><rect x="1354" y="878" width="8" height="10" rx="3" fill="#fff"/>
<rect x="1392" y="789" width="6" height="11" rx="2" fill="#fff"/><rect x="1392" y="878" width="6" height="11" rx="2" fill="#fff"/>
<path d="M1350.6,789L1355.5,793.9 1350.6,798.8 1345.7,793.9Z" fill="#999"/><path d="M1350.6,876L1355.5,880.9 1350.6,885.8 1345.7,880.9Z" fill="#999"/>
<use href="#fd" x="1402" y="837.2"/>
<circle cx="1429.3" cy="837.2" r="10.8" fill="#fff"/><path d="M1429.3,831L1435.5,837.2 1429.3,843.4 1423.1,837.2Z"/>
<path d="M1434.7,756.3V777.9H1447.9V756.3ZM1434.7,898V919.6H1447.9V898Z" fill="#fff"/>
<path d="M1434.7,759L1447.9,756.3M1434.7,917L1447.9,919.6" stroke-width=".8"/>
</g>
</svg>
</body></html>
